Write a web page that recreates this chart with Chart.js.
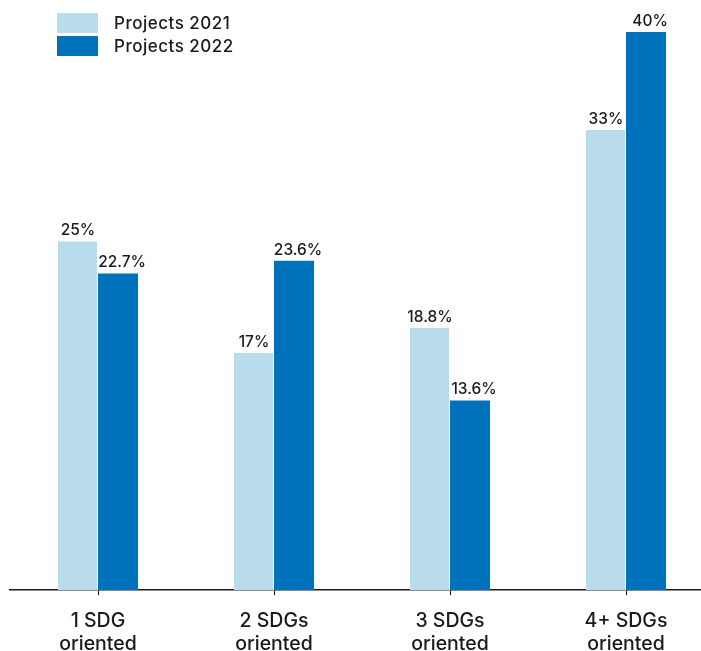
<!DOCTYPE html>
<html>
<head>
<meta charset="utf-8">
<script src="https://cdn.jsdelivr.net/npm/chart.js@4/dist/chart.umd.min.js"></script>
<style>
  html, body { margin: 0; padding: 0; background: #fff; overflow: hidden; }
  .wrap { position: relative; width: 701px; height: 651px; overflow: hidden; }
  canvas { position: absolute; left: 0; top: 0; }
  .legend { position: absolute; left: 57px; top: 11px; font-family: Inter, 'Noto Sans', sans-serif; font-size: 17px; font-weight: 500; letter-spacing: 0.5px; color: #1a1a1a; }
  .legend div { display: flex; align-items: center; height: 23px; }
  .legend span.box { display: inline-block; width: 41px; height: 20px; margin-right: 16px; }
</style>
</head>
<body>
<div class="wrap">
  <canvas id="chart" width="716" height="670"></canvas>
  <div class="legend" id="legend"></div>
</div>
<script>
// Data
var categories = [['1 SDG', 'oriented'], ['2 SDGs', 'oriented'], ['3 SDGs', 'oriented'], ['4+ SDGs', 'oriented']];
var projects2021 = [25, 17, 18.8, 33];
var projects2022 = [22.7, 23.6, 13.6, 40];
var valueLabels2021 = ['25%', '17%', '18.8%', '33%'];
var valueLabels2022 = ['22.7%', '23.6%', '13.6%', '40%'];

var FONT = "Inter, 'Noto Sans', sans-serif";
var TEXT = '#1a1a1a';

// draws the % labels above each bar
var barLabels = {
  id: 'barLabels',
  afterDatasetsDraw: function(chart) {
    var ctx = chart.ctx;
    ctx.save();
    ctx.font = '500 15.5px ' + FONT;
    ctx.fillStyle = TEXT;
    ctx.textAlign = 'center';
    ctx.textBaseline = 'alphabetic';
    chart.data.datasets.forEach(function(ds, i) {
      var meta = chart.getDatasetMeta(i);
      meta.data.forEach(function(bar, j) {
        ctx.fillText(ds.valueLabels[j], bar.x + (i === 1 ? 4 : 0), bar.y - 6);
      });
    });
    ctx.restore();
  }
};

var chart = new Chart(document.getElementById('chart'), {
  type: 'bar',
  data: {
    labels: categories,
    datasets: [
      { label: 'Projects 2021', data: projects2021, valueLabels: valueLabels2021, backgroundColor: '#b9dcec', borderColor: '#ffffff', borderWidth: { right: 1 }, borderSkipped: false },
      { label: 'Projects 2022', data: projects2022, valueLabels: valueLabels2022, backgroundColor: '#0072bc', borderWidth: 0 }
    ]
  },
  options: {
    responsive: false,
    animation: false,
    layout: { padding: { left: 10, right: 2, top: 32, bottom: 0 } },
    datasets: { bar: { categoryPercentage: 0.455, barPercentage: 1 } },
    plugins: { legend: { display: false }, tooltip: { enabled: false } },
    scales: {
      y: { display: false, min: 0, max: 40 },
      x: {
        grid: { display: true, drawOnChartArea: false, offset: false, color: '#1a1a1a', tickLength: 5 },
        border: { display: true, color: '#1a1a1a', width: 1.5 },
        ticks: { color: TEXT, font: { family: FONT, size: 19.5, weight: '500', lineHeight: 1.15 }, padding: 15, maxRotation: 0, autoSkip: false }
      }
    }
  },
  plugins: [barLabels]
});

// html legend built from datasets
var legend = document.getElementById('legend');
chart.data.datasets.forEach(function(ds) {
  var row = document.createElement('div');
  row.innerHTML = '<span class="box" style="background:' + ds.backgroundColor + '"></span>' + ds.label;
  legend.appendChild(row);
});
</script>
</body>
</html>
